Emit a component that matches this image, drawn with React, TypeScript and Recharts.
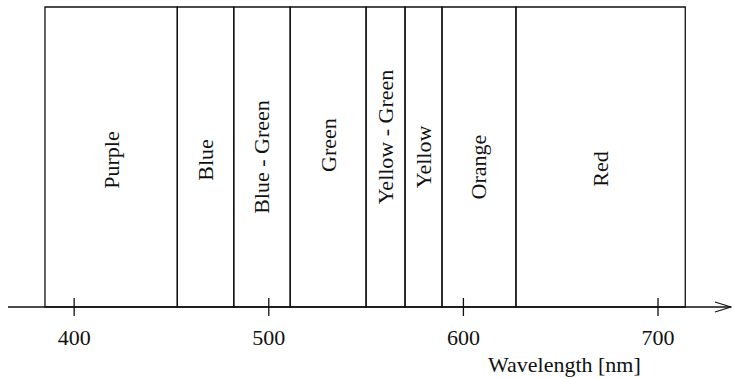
import { ComposedChart, XAxis, YAxis, ReferenceArea, Label, Line } from 'recharts';

// colour bands of the visible spectrum, edges in nm
const BAND_NAMES = ['Purple', 'Blue', 'Blue - Green', 'Green', 'Yellow - Green', 'Yellow', 'Orange', 'Red'];
const BAND_EDGES = [385, 453, 482, 511, 550, 570, 589, 627, 714];
const TICK_VALUES = [400, 500, 600, 700];
const X_DOMAIN = [366, 737.5];

const INK = '#111';
const FONT = '"Liberation Serif", "DejaVu Serif", serif';

// the hand-placed labels don't all sit at mid height
const LABEL_NUDGE: Record<string, number> = {
  Purple: 3,
  Blue: 3,
  'Blue - Green': 0,
  Green: -12,
  'Yellow - Green': -20,
  Yellow: 0,
  Orange: 10,
  Red: 12,
};

const rows = BAND_NAMES.map((name, i) => ({ name, from: BAND_EDGES[i], to: BAND_EDGES[i + 1], level: 0 }));

function WaveTick({ x, y, payload }: any) {
  return (
    <g>
      <line x1={x} x2={x} y1={y - 9} y2={y + 9} stroke={INK} strokeWidth={1.3} />
      <text x={x} y={y + 38} textAnchor="middle" fontFamily={FONT} fontSize={22} fill={INK}>
        {payload.value}
      </text>
    </g>
  );
}

function bandLabel(name: string) {
  return ({ viewBox }: any) => {
    const cx = viewBox.x + viewBox.width / 2;
    const cy = viewBox.y + viewBox.height / 2 + (LABEL_NUDGE[name] ?? 0);
    return (
      <text
        x={cx}
        y={cy}
        transform={`rotate(-90 ${cx} ${cy})`}
        textAnchor="middle"
        dominantBaseline="central"
        fontFamily={FONT}
        fontSize={22}
        fill={INK}
      >
        {name}
      </text>
    );
  };
}

export default function App() {
  return (
    <div style={{ position: 'absolute', left: 0, top: 0, background: '#fff' }}>
      <ComposedChart width={734} height={378} data={rows} margin={{ top: 7, right: 3, bottom: 0, left: 8 }}>
        <defs>
          <marker
            id="axis-arrow"
            markerWidth={18}
            markerHeight={12}
            refX={17}
            refY={6}
            orient="auto"
            markerUnits="userSpaceOnUse"
          >
            <path d="M1,1 L17,6 L1,11" fill="none" stroke={INK} strokeWidth={1.3} />
          </marker>
        </defs>
        <XAxis
          type="number"
          dataKey="from"
          domain={X_DOMAIN}
          ticks={TICK_VALUES}
          allowDataOverflow
          height={71}
          tickSize={0}
          tickMargin={0}
          tickLine={false}
          tick={<WaveTick />}
          axisLine={{ stroke: INK, strokeWidth: 1.3, markerEnd: 'url(#axis-arrow)' }}
        >
          <Label
            content={({ viewBox }: any) => (
              <text
                x={viewBox.x + viewBox.width - 243}
                y={viewBox.y + 65}
                fontFamily={FONT}
                fontSize={22}
                fill={INK}
              >
                Wavelength [nm]
              </text>
            )}
          />
        </XAxis>
        <YAxis type="number" dataKey="level" domain={[0, 1]} allowDataOverflow hide />
        {/* invisible series so the value axis gets a scale */}
        <Line dataKey="level" stroke="none" dot={false} activeDot={false} isAnimationActive={false} />
        {rows.map((r) => (
          <ReferenceArea
            key={r.name}
            x1={r.from}
            x2={r.to}
            y1={0}
            y2={1}
            ifOverflow="visible"
            fill="none"
            fillOpacity={0}
            stroke={INK}
            strokeWidth={1.3}
            strokeOpacity={1}
            label={bandLabel(r.name)}
          />
        ))}
      </ComposedChart>
    </div>
  );
}
